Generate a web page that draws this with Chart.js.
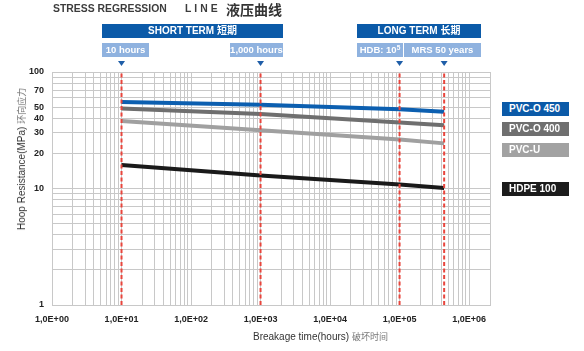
<!DOCTYPE html>
<html><head><meta charset="utf-8">
<script src="https://cdn.jsdelivr.net/npm/chart.js@4.4.0/dist/chart.umd.min.js"></script>
<style>
html,body{margin:0;padding:0;background:#fff;}
#wrap{position:relative;width:584px;height:351px;overflow:hidden;font-family:"Liberation Sans","Noto Sans CJK SC",Arial,sans-serif;}
canvas{position:absolute;left:0;top:0;}
.ov{position:absolute;white-space:nowrap;}
.bar{position:absolute;color:#fff;font-weight:bold;font-size:10px;height:14px;line-height:14px;text-align:center;white-space:nowrap;}
.dark{background:#0b5aa8;}
.light{background:#8fb2df;font-size:9.5px;}
.leg{position:absolute;left:502px;width:67px;height:14px;line-height:14px;color:#fff;font-weight:bold;font-size:10px;padding-left:7px;box-sizing:border-box;white-space:nowrap;}
sup{font-size:6.5px;vertical-align:top;line-height:10px;}
</style></head>
<body>
<div id="wrap">
<canvas id="c" width="584" height="351"></canvas>
<div class="ov" style="left:53px;top:2px;font-size:10.4px;font-weight:bold;color:#3c3c3c;line-height:14px;">STRESS REGRESSION</div>
<div class="ov" style="left:185px;top:2px;font-size:10.4px;font-weight:bold;color:#3c3c3c;line-height:14px;letter-spacing:3px;">LINE</div>
<div class="ov" style="left:226px;top:0px;font-size:14px;font-weight:bold;color:#333;line-height:18px;font-family:'Noto Sans CJK SC';">液压曲线</div>

<div class="bar dark" style="left:102px;top:24px;width:181px;">SHORT TERM 短期</div>
<div class="bar dark" style="left:357px;top:24px;width:124px;">LONG TERM 长期</div>
<div class="bar light" style="left:102px;top:43px;width:47px;">10 hours</div>
<div class="bar light" style="left:230px;top:43px;width:53px;">1,000 hours</div>
<div class="bar light" style="left:357px;top:43px;width:46px;">HDB: 10<sup>5</sup></div>
<div class="bar light" style="left:404px;top:43px;width:77px;">MRS 50 years</div>

<div class="leg" style="top:102px;background:#0b5aa8;">PVC-O 450</div>
<div class="leg" style="top:122px;background:#6f6f6f;">PVC-O 400</div>
<div class="leg" style="top:143px;background:#a2a2a2;">PVC-U</div>
<div class="leg" style="top:182px;background:#1c1c1c;">HDPE 100</div>

<div class="ov" style="left:22px;top:159px;transform:translate(-50%,-50%) rotate(-90deg);font-size:10px;color:#333;line-height:12px;">Hoop Resistance(MPa) <span style="font-size:9px;color:#777;">环向应力</span></div>
<div class="ov" style="left:253px;top:331px;font-size:10px;color:#333;line-height:12px;">Breakage time(hours) <span style="font-size:9px;color:#777;">破坏时间</span></div>
</div>
<script>
// ---- data ----
const hours = [10, 1000, 100000, 438000];
const pvco450 = [55.4, 52.3, 48.0, 45.5];
const pvco400 = [48.7, 43.5, 36.8, 34.9];
const pvcu = [38.0, 31.6, 26.4, 24.4];
const hdpe100 = [15.9, 12.9, 10.8, 10.1];
const seriesNames = ['PVC-O 450', 'PVC-O 400', 'PVC-U', 'HDPE 100'];
const markerHours = [10, 1000, 100000, 438000];
const xLabelValues = [1, 10, 100, 1000, 10000, 100000, 1000000];
const xLabelTexts = ['1,0E+00', '1,0E+01', '1,0E+02', '1,0E+03', '1,0E+04', '1,0E+05', '1,0E+06'];
const yLabelValues = [1, 10, 20, 30, 40, 50, 70, 100];
const xMin = 1, xMax = 2000000, yMin = 1, yMax = 100;

function pts(vals) { return hours.map((h, i) => ({ x: h, y: vals[i] })); }
function gridTicks(min, max) {
  const out = [];
  for (let k = 0; Math.pow(10, k) <= max; k++) {
    for (let m = 1; m <= 9; m++) {
      const v = m * Math.pow(10, k);
      if (v >= min && v <= max) out.push({ value: v });
    }
  }
  if (out[out.length - 1].value !== max) out.push({ value: max });
  return out;
}

const seriesColors = ['#0c5fb0', '#6f6f6f', '#a0a0a0', '#1a1a1a'];
const seriesData = [pvco450, pvco400, pvcu, hdpe100];
const datasets = [];
markerHours.forEach(h => {
  datasets.push({
    label: 'marker', data: [{ x: h, y: yMin }, { x: h, y: yMax }],
    borderColor: '#e8453c', borderWidth: 2, borderDash: [4, 2.5],
    pointRadius: 0, order: 0
  });
});
seriesNames.forEach((n, i) => {
  datasets.push({
    label: n, data: pts(seriesData[i]),
    borderColor: seriesColors[i], borderWidth: 4, pointRadius: 0,
    borderCapStyle: 'butt', tension: 0, order: 1
  });
});

const triPlugin = {
  id: 'tri',
  afterDraw(chart) {
    const ctx = chart.ctx, xs = chart.scales.x, top = chart.chartArea.top;
    ctx.save();
    ctx.fillStyle = '#1f5ea8';
    markerHours.forEach(h => {
      const x = xs.getPixelForValue(h);
      ctx.beginPath();
      ctx.moveTo(x - 3.5, top - 11);
      ctx.lineTo(x + 3.5, top - 11);
      ctx.lineTo(x, top - 6);
      ctx.closePath();
      ctx.fill();
    });
    ctx.restore();
  }
};

const tickFont = { family: 'Liberation Sans', size: 9, weight: 'bold' };
new Chart(document.getElementById('c'), {
  type: 'line',
  data: { datasets },
  plugins: [triPlugin],
  options: {
    responsive: false, animation: false, devicePixelRatio: 1,
    layout: { padding: { left: 0, right: 94, top: 72, bottom: 22 } },
    plugins: { legend: { display: false }, tooltip: { enabled: false } },
    scales: {
      x: {
        type: 'logarithmic', min: xMin, max: xMax,
        afterBuildTicks: s => { s.ticks = gridTicks(xMin, xMax); },
        afterFit: s => { s.height = 24; },
        grid: { color: '#c8c8c8', lineWidth: 1, drawTicks: false },
        border: { color: '#c8c8c8' },
        ticks: {
          autoSkip: false, maxRotation: 0, padding: 9, color: '#222', font: tickFont,
          callback: v => { const i = xLabelValues.indexOf(v); return i >= 0 ? xLabelTexts[i] : ''; }
        }
      },
      y: {
        type: 'logarithmic', min: yMin, max: yMax,
        afterBuildTicks: s => { s.ticks = gridTicks(yMin, yMax); },
        afterFit: s => { s.width = 52; },
        grid: { color: '#c8c8c8', lineWidth: 1, drawTicks: false },
        border: { color: '#c8c8c8' },
        ticks: {
          autoSkip: false, padding: 8, color: '#222', font: tickFont,
          callback: v => yLabelValues.includes(v) ? String(v) : ''
        }
      }
    }
  }
});
</script>
</body></html>
